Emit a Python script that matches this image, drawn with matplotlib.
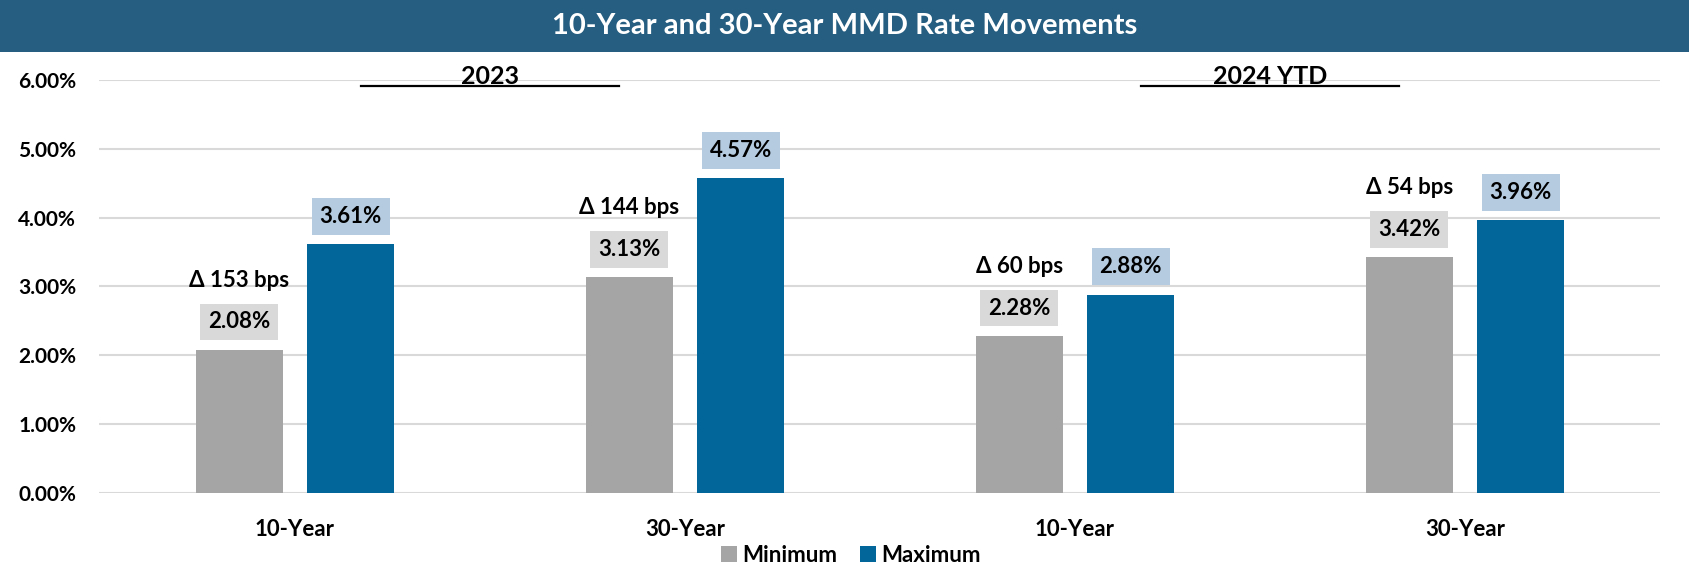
import matplotlib
matplotlib.use("Agg")
import matplotlib.pyplot as plt
from matplotlib.patches import Rectangle
from matplotlib.lines import Line2D
import numpy as np

plt.rcParams['font.family'] = ['Lato', 'DejaVu Sans']
plt.rcParams['font.weight'] = 'bold'

categories = ['10-Year', '30-Year', '10-Year', '30-Year']
minimum = [2.08, 3.13, 2.28, 3.42]
maximum = [3.61, 4.57, 2.88, 3.96]
periods = ['2023', '2024 YTD']

gray = '#A5A5A5'
blue = '#02669A'
gray_box = '#D9D9D9'
blue_box = '#B4CBE0'
banner = '#255E80'

fig = plt.figure(figsize=(16.9, 5.69), dpi=100)
ax = fig.add_axes([99 / 1690, 76.4 / 569, (1660 - 99) / 1690, (492.6 - 80) / 569])

# title banner
fig.patches.append(Rectangle((0, 1 - 52 / 569), 1, 52 / 569, transform=fig.transFigure,
                             facecolor=banner, edgecolor='none', zorder=0))
fig.text(0.5, 1 - 26 / 569, '10-Year and 30-Year MMD Rate Movements', color='white',
         fontsize=21, fontweight='bold', ha='center', va='center')

x = np.arange(len(categories))
w = 0.223
off = 0.143
b1 = ax.bar(x - off, minimum, w, color=gray, label='Minimum', zorder=2)
b2 = ax.bar(x + off, maximum, w, color=blue, label='Maximum', zorder=2)

for xi, lo, hi in zip(x, minimum, maximum):
    ax.annotate(f'{lo:.2f}%', (xi - off, lo), xytext=(0, 20), textcoords='offset points',
                ha='center', va='center', fontsize=16, fontweight='bold',
                bbox=dict(boxstyle='square,pad=0.35', fc=gray_box, ec='none'))
    ax.annotate(f'{hi:.2f}%', (xi + off, hi), xytext=(0, 20), textcoords='offset points',
                ha='center', va='center', fontsize=16, fontweight='bold',
                bbox=dict(boxstyle='square,pad=0.35', fc=blue_box, ec='none'))
    ax.annotate(f'Δ {round((hi - lo) * 100)} bps', (xi - off, lo), xytext=(0, 50),
                textcoords='offset points', ha='center', va='center',
                fontsize=16, fontweight='bold')

# period headers
for i, p in enumerate(periods):
    cx = 2 * i + 0.5
    ax.text(cx, 5.94, p, ha='center', va='baseline', fontsize=18, fontweight='bold',
            clip_on=False)
    ax.add_line(Line2D([cx - 0.33, cx + 0.33], [5.92, 5.92], color='black', lw=1.6,
                       clip_on=False))

ax.set_xlim(-0.5026, 3.5)
ax.set_ylim(0, 6)
ax.set_yticks(np.arange(0, 7, 1))
ax.set_yticklabels([f'{v:.2f}%' for v in np.arange(0, 7, 1)])
ax.set_xticks(x)
ax.set_xticklabels(categories)
ax.grid(axis='y', color='#D9D9D9', lw=1.5, zorder=0)
ax.set_axisbelow(True)
for s in ax.spines.values():
    s.set_visible(False)
ax.tick_params(axis='both', length=0, labelsize=15)
ax.tick_params(axis='x', pad=19, labelsize=16)
ax.tick_params(axis='y', pad=16.5)

fig.legend(handles=[b1, b2], loc='center', bbox_to_anchor=(0.5036, 14 / 569), ncol=2,
           frameon=False, fontsize=16, handlelength=0.72, handleheight=0.72,
           handletextpad=0.25, columnspacing=1.0)

fig.savefig('out.png', dpi=100)
